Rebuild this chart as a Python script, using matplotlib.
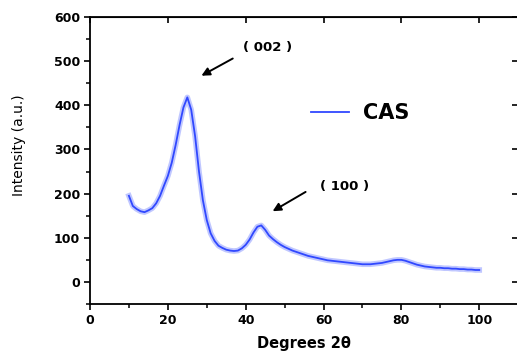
import matplotlib
matplotlib.use("Agg")
import matplotlib.pyplot as plt

# Data (2-theta in degrees, intensity a.u.)
two_theta = list(range(10, 101))
intensity = [
    195, 172, 165, 160, 158, 162, 167, 178, 195, 218,   # 10-19
    240, 270, 310, 355, 395, 418, 390, 330, 250, 185,   # 20-29
    140, 110, 93, 82, 77, 73, 71, 70, 71, 76,           # 30-39
    84, 96, 112, 125, 128, 118, 105, 97, 90, 84,        # 40-49
    79, 75, 71, 68, 65, 62, 59, 57, 55, 53,             # 50-59
    51, 49, 48, 47, 46, 45, 44, 43, 42, 41,             # 60-69
    40, 40, 40, 41, 42, 43, 45, 47, 49, 50,             # 70-79
    50, 48, 45, 42, 39, 37, 35, 34, 33, 32,             # 80-89
    32, 31, 31, 30, 30, 29, 29, 28, 28, 27, 27,         # 90-100
]
series_label = "CAS"
peak_labels = ["( 002 )", "( 100 )"]
x_ticks = [0, 20, 40, 60, 80, 100]
y_ticks = [0, 100, 200, 300, 400, 500, 600]

W, H = 517, 351
fig = plt.figure(figsize=(W / 100, H / 100), dpi=100)
ax = fig.add_axes([90 / W, 1 - 304 / H, (518.2 - 90) / W, (304 - 17) / H])

blue = "#3048ff"
ax.plot(two_theta, intensity, color=blue, lw=4.0, alpha=0.3, solid_joinstyle="round")
ax.plot(two_theta, intensity, color=blue, lw=1.3, label=series_label)

ax.set_xlim(0, 110)
ax.set_ylim(-50, 600)
ax.set_xticks(x_ticks)
ax.set_yticks(y_ticks)
ax.set_xticks([10, 30, 50, 70, 90], minor=True)
ax.set_yticks([-50, 50, 150, 250, 350, 450, 550], minor=True)

for s in ax.spines.values():
    s.set_linewidth(1.3)

ax.tick_params(axis="both", which="major", direction="out", length=4, width=1.2,
               labelsize=9, pad=3)
ax.tick_params(axis="both", which="minor", direction="out", length=3, width=1.1)
for lab in ax.get_xticklabels() + ax.get_yticklabels():
    lab.set_fontweight("bold")
    lab.set_family("DejaVu Sans")

# mirrored major ticks on top/right pointing inward
axt = ax.secondary_xaxis("top")
axt.set_xticks(x_ticks)
axt.tick_params(direction="in", length=4, width=1.2, labeltop=False)
axr = ax.secondary_yaxis("right")
axr.set_yticks(y_ticks)
axr.tick_params(direction="in", length=4, width=1.2, labelright=False)

ax.set_xlabel("Degrees 2θ", fontsize=10.5, fontweight="bold", family="DejaVu Sans")
ax.xaxis.set_label_coords(0.5, -(336 - 304) / (304 - 17))
ax.xaxis.label.set_va("top")
ax.set_ylabel("Intensity (a.u.)", fontsize=10, family="DejaVu Sans")
ax.yaxis.set_label_coords(-(90 - 26) / (518.2 - 90), (304 - 145) / (304 - 17))

leg = ax.legend(loc="center left", bbox_to_anchor=(0.516, 0.6655), frameon=False,
                borderpad=0, borderaxespad=0, handlelength=1.85, handletextpad=0.65,
                prop={"family": "DejaVu Sans", "weight": "bold", "size": 15})

ax.annotate("", xy=(28.0, 464), xytext=(37.3, 509),
            arrowprops=dict(arrowstyle="-|>", lw=1.4, color="black", mutation_scale=12))
ax.text(39.3, 532, peak_labels[0], fontsize=9.5, fontweight="bold",
        family="DejaVu Sans", va="center", ha="left")
ax.annotate("", xy=(46.3, 157), xytext=(56.0, 207),
            arrowprops=dict(arrowstyle="-|>", lw=1.4, color="black", mutation_scale=12))
ax.text(59.1, 216, peak_labels[1], fontsize=9.5, fontweight="bold",
        family="DejaVu Sans", va="center", ha="left")

fig.savefig("out.png", dpi=100)
